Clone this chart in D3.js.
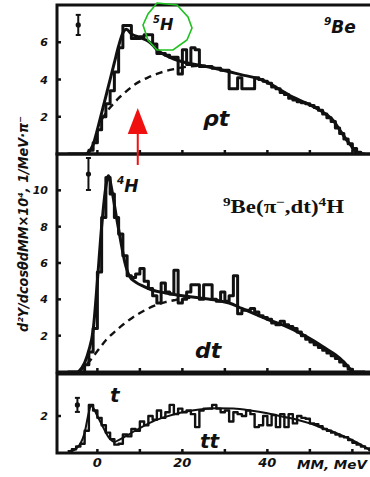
<!DOCTYPE html>
<html>
<head>
<meta charset="utf-8">
<script src="https://cdn.jsdelivr.net/npm/d3@7"></script>
<style>
  html, body { margin: 0; padding: 0; background: #fff; }
  svg { display: block; }
  .hand { font-family: "DejaVu Sans", sans-serif; font-style: italic; font-weight: bold; fill: #111; }
</style>
</head>
<body>
<svg id="chart" width="370" height="477"></svg>
<script>
// ---- data ----------------------------------------------------------------
// Missing-mass histograms, 1 MeV bins; first bin starts at binStart (MeV).
const binStart = -7;
const binWidth = 1;

// 9Be(pi-, pt) X
const ptCounts = [
  0, 0, 0, 0, 0, 0.2, 0.6, 1.3, 2.0, 2.7,          // -7 .. 2
  3.4, 4.4, 5.7, 6.9, 6.9, 6.2, 6.2, 6.3, 6.4, 6.4, // 3 .. 12
  5.9, 5.4, 5.4, 5.3, 5.2, 5.2, 4.3, 5.6, 4.8, 5.7, // 13 .. 22
  5.6, 4.7, 4.7, 4.7, 4.6, 4.6, 4.5, 4.5, 3.5, 3.5, // 23 .. 32
  4.1, 3.5, 3.5, 3.5, 4.1, 4.0, 3.9, 3.8, 3.6, 3.5, // 33 .. 42
  3.3, 3.2, 3.0, 2.9, 2.8, 2.75, 2.7, 2.6, 2.5, 2.35, // 43 .. 52
  2.15, 1.95, 1.75, 1.4, 1.1, 0.8, 0.55, 0.3, 0.1, 0  // 53 .. 62
];
// 9Be(pi-, dt) 4H
const dtCounts = [
  0, 0, 0, 0, 0.4, 1.1, 2.4, 5.5, 8.5, 10.7,        // -7 .. 2
  9.8, 8.5, 7.6, 6.4, 5.3, 5.2, 5.4, 5.7, 5.0, 4.6, // 3 .. 12
  4.2, 3.8, 4.9, 4.4, 4.3, 5.6, 3.8, 4.0, 4.4, 4.8, // 13 .. 22
  4.8, 4.0, 4.8, 4.8, 4.0, 3.9, 4.4, 3.9, 4.2, 5.3, // 23 .. 32
  3.2, 3.4, 3.4, 3.5, 3.3, 3.1, 3.0, 2.9, 2.7, 2.6, // 33 .. 42
  2.8, 2.6, 2.5, 2.4, 2.2, 2.0, 1.8, 1.65, 1.5, 1.35, // 43 .. 52
  1.2, 1.05, 0.9, 0.75, 0.55, 0.35, 0.15, 0, 0, 0   // 53 .. 62
];
// 9Be(pi-, tt) X
const ttCounts = [
  0.1, 0.2, 0.35, 0.5, 1.2, 2.6, 2.3, 1.9, 1.5, 1.1, // -7 .. 2
  0.75, 0.45, 0.5, 1.0, 0.9, 1.3, 1.2, 1.7, 1.5, 2.0, // 3 .. 12
  1.8, 2.3, 1.9, 2.2, 2.6, 2.1, 2.4, 2.2, 2.3, 2.1,  // 13 .. 22
  1.4, 2.3, 2.4, 2.4, 2.6, 2.4, 2.2, 2.3, 1.7, 2.2,  // 23 .. 32
  2.1, 2.0, 2.3, 2.1, 1.4, 1.5, 2.0, 1.5, 2.05, 1.4, // 33 .. 42
  2.1, 1.4, 2.1, 1.6, 2.0, 1.9, 1.85, 1.6, 1.55, 1.45, // 43 .. 52
  1.3, 1.2, 1.1, 1.0, 0.9, 0.85, 0.7, 0.55, 0.45, 0.35, // 53 .. 62
  0.25, 0.15                                          // 63 .. 64
];

// Fitted curves, [MeV, value]
const ptFit = [[-2.5,0],[-1,0.5],[0,1.3],[1,2.2],[2,3.1],[3,4.0],[4,4.9],[5,5.8],[6,6.5],[6.8,6.7],
  [8,6.45],[10,6.25],[12,6.05],[13,5.85],[14,5.6],[16,5.3],[18,5.1],[20,4.95],[22,4.85],[25,4.72],
  [28,4.58],[31,4.42],[34,4.25],[37,4.1],[40,3.85],[43,3.45],[46,3.05],[49,2.75],[52,2.4],[54,2.1],
  [55.5,1.8],[57,1.3],[58.5,0.8],[60,0.35],[61,0]];
const dtFit = [[-4.5,0],[-3,0.5],[-2,1.2],[-1,2.3],[0,5.0],[1,8.0],[2,10.2],[2.6,10.8],[3.5,9.9],
  [4.5,8.5],[5.5,7.2],[6.5,6.0],[7.5,5.3],[9,4.95],[11,4.7],[13,4.5],[16,4.35],[20,4.2],[24,4.08],
  [28,3.95],[31,3.8],[34,3.5],[37,3.2],[40,2.9],[44,2.55],[48,2.1],[51,1.7],[54,1.25],[56,0.95],
  [58,0.55],[59.5,0.15],[60,0]];
const ttFit = [[-6,0.1],[-5,0.25],[-4,0.5],[-3,1.1],[-2,2.2],[-1.5,2.55],[-1,2.45],[0,2.0],[1,1.55],
  [2,1.1],[3,0.75],[4,0.6],[5,0.7],[7,0.95],[10,1.35],[13,1.7],[16,1.95],[20,2.2],[24,2.35],[28,2.42],
  [32,2.4],[36,2.3],[40,2.15],[44,1.95],[47,1.8],[50,1.6],[53,1.35],[56,1.1],[59,0.8],[62,0.45],[64.5,0.1]];

// Phase-space distributions (dashed), [MeV, value]
const ptPhase = [[1,1.85],[2,2.2],[3,2.5],[4,2.75],[5,3.0],[6,3.2],[7,3.4],[8,3.6],[10,3.9],[12,4.12],
  [14,4.3],[16,4.45],[18,4.56],[20,4.65],[22,4.71],[24,4.74],[25.5,4.74]];
const dtPhase = [[-4.5,0],[-3,0.3],[-2,0.55],[0,1.15],[2,1.75],[4,2.2],[6,2.6],[8,2.95],[10,3.25],
  [12,3.5],[14,3.7],[16,3.85],[18,3.95],[20,4.05],[22,4.08]];

// Typical error bars, [MeV, value, error]
const ptError = [-4.5, 6.93, 0.54];
const dtError = [-2.1, 10.9, 0.88];
const ttError = [-4.7, 2.6, 0.38];

// Axis ticks
const xTicks = [0, 10, 20, 30, 40, 50, 60];
const xTickLabels = [0, 20, 40];
const ptYTicks = [2, 4, 6];
const dtYTicks = [2, 4, 6, 8, 10];
const ttYTicks = [2];

// Marked position of the 5H state
const arrowMeV = 9.5;

// ---- drawing -------------------------------------------------------------
const svg = d3.select("#chart");
const left = 57, right = 372;
const x = d3.scaleLinear().domain([-9.5, 64.5]).range([left, 371.5]);

const panels = [
  { id: "pt", counts: ptCounts, fit: ptFit, phase: ptPhase, err: ptError, ticks: ptYTicks,
    y: d3.scaleLinear().domain([0, 8]).range([154, 5]), lw: 3 },
  { id: "dt", counts: dtCounts, fit: dtFit, phase: dtPhase, err: dtError, ticks: dtYTicks,
    y: d3.scaleLinear().domain([0, 12]).range([372, 154]), lw: 3 },
  { id: "tt", counts: ttCounts, fit: ttFit, phase: null, err: ttError, ticks: ttYTicks,
    y: d3.scaleLinear().domain([0, 4.27]).range([453, 374]), lw: 2.4 }
];

panels.forEach(p => {
  const [yBot, yTop] = p.y.range();
  const g = svg.append("g");

  g.append("clipPath").attr("id", "clip-" + p.id)
    .append("rect").attr("x", left).attr("y", yTop).attr("width", right - left).attr("height", yBot - yTop);

  const plot = g.append("g").attr("clip-path", `url(#clip-${p.id})`);

  // phase space (dashed)
  if (p.phase) {
    plot.append("path")
      .attr("d", d3.line().x(d => x(d[0])).y(d => p.y(d[1])).curve(d3.curveMonotoneX)(p.phase))
      .attr("fill", "none").attr("stroke", "#111").attr("stroke-width", 2.4)
      .attr("stroke-dasharray", "7,5");
  }

  // fit curve
  plot.append("path")
    .attr("d", d3.line().x(d => x(d[0])).y(d => p.y(d[1])).curve(d3.curveMonotoneX)(p.fit))
    .attr("fill", "none").attr("stroke", "#111")
    .attr("stroke-width", p.id === "tt" ? 2 : 3).attr("stroke-linejoin", "round");

  // histogram
  const pts = p.counts.map((v, i) => [binStart + i * binWidth, v]);
  pts.push([binStart + p.counts.length * binWidth, p.counts[p.counts.length - 1]]);
  plot.append("path")
    .attr("d", d3.line().x(d => x(d[0])).y(d => p.y(d[1])).curve(d3.curveStepAfter)(pts))
    .attr("fill", "none").attr("stroke", "#111").attr("stroke-width", p.lw)
    .attr("stroke-linejoin", "round");

  // frame: left, top, bottom
  g.append("path")
    .attr("d", `M${right},${yTop}H${left}V${yBot}H${right}`)
    .attr("fill", "none").attr("stroke", "#111").attr("stroke-width", 3);

  // x ticks (inside)
  g.selectAll(".xt").data(xTicks).join("line")
    .attr("x1", d => x(d)).attr("x2", d => x(d))
    .attr("y1", yBot).attr("y2", yBot - 4)
    .attr("stroke", "#111").attr("stroke-width", 2.5);

  // y ticks + labels
  g.selectAll(".yt").data(p.ticks).join("line")
    .attr("x1", left).attr("x2", left + 4)
    .attr("y1", d => p.y(d)).attr("y2", d => p.y(d))
    .attr("stroke", "#111").attr("stroke-width", 2.5);
  g.selectAll(".yl").data(p.ticks).join("text")
    .attr("class", "hand")
    .attr("x", left - 9).attr("y", d => p.y(d) + 4)
    .attr("text-anchor", "end").attr("font-size", 11)
    .text(d => d);

  // typical error bar
  const [ex, ey, ee] = p.err;
  g.append("line")
    .attr("x1", x(ex)).attr("x2", x(ex))
    .attr("y1", p.y(ey - ee)).attr("y2", p.y(ey + ee))
    .attr("stroke", "#111").attr("stroke-width", 2);
  [ey - ee, ey + ee].forEach(v => g.append("line")
    .attr("x1", x(ex) - 2.5).attr("x2", x(ex) + 2.5)
    .attr("y1", p.y(v)).attr("y2", p.y(v))
    .attr("stroke", "#111").attr("stroke-width", 2));
  g.append("circle").attr("cx", x(ex)).attr("cy", p.y(ey)).attr("r", 2.6).attr("fill", "#111");
});

// x tick labels and axis title
const bottomY = 467;
svg.selectAll(".xl").data(xTickLabels).join("text")
  .attr("class", "hand").attr("x", d => x(d)).attr("y", bottomY)
  .attr("text-anchor", "middle").attr("font-size", 13).text(d => d);
svg.append("text").attr("class", "hand")
  .attr("x", 297).attr("y", 469).attr("font-size", 13)
  .attr("textLength", 70).attr("lengthAdjust", "spacingAndGlyphs")
  .text("MM, MeV");

// y axis title
svg.append("text").attr("class", "hand")
  .attr("transform", "translate(28,224) rotate(-90)")
  .attr("text-anchor", "middle").attr("font-size", 14)
  .attr("textLength", 216).attr("lengthAdjust", "spacingAndGlyphs")
  .text("d²Y/dcosθdMM×10⁴, 1/MeV·π⁻");

// annotations
function supLabel(xp, yp, sup, main, size) {
  const t = svg.append("text").attr("class", "hand").attr("x", xp).attr("y", yp).attr("font-size", size);
  t.append("tspan").attr("font-size", size * 0.62).attr("dy", -size * 0.45).text(sup);
  t.append("tspan").attr("dy", size * 0.45).text(main);
  return t;
}
supLabel(153, 30, "5", "H", 16);
supLabel(324, 33, "9", "Be", 17);
supLabel(117, 192, "4", "H", 17);

svg.append("text").attr("class", "hand").attr("x", 203).attr("y", 126).attr("font-size", 22).text("ρt");
svg.append("text").attr("class", "hand").attr("x", 195).attr("y", 358).attr("font-size", 22).text("dt");
svg.append("text").attr("class", "hand").attr("x", 110).attr("y", 402).attr("font-size", 20).text("t");
svg.append("text").attr("class", "hand").attr("x", 200).attr("y", 448).attr("font-size", 20).text("tt");

// reaction label (serif bold)
const rx = svg.append("text")
  .attr("x", 223).attr("y", 213)
  .attr("font-family", "'Liberation Serif', 'DejaVu Serif', serif")
  .attr("font-weight", "bold").attr("font-size", 18).attr("fill", "#111")
  .attr("textLength", 121).attr("lengthAdjust", "spacingAndGlyphs");
rx.append("tspan").attr("font-size", 12).attr("dy", -7).text("9");
rx.append("tspan").attr("dy", 7).text("Be(π");
rx.append("tspan").attr("font-size", 12).attr("dy", -7).text("−");
rx.append("tspan").attr("dy", 7).text(",dt)");
rx.append("tspan").attr("font-size", 12).attr("dy", -7).text("4");
rx.append("tspan").attr("dy", 7).text("H");

// green outline around the 5H label
const ring = [[157,3],[177,5],[188,17],[192,28],[187,40],[173,50],[157,50],[148,40],[143,25],[148,14]];
svg.append("path")
  .attr("d", d3.line().curve(d3.curveLinearClosed)(ring))
  .attr("fill", "none").attr("stroke", "#1fc21f").attr("stroke-width", 1.6);

// red arrow at the 5H position
const ax = x(arrowMeV);
svg.append("line").attr("x1", ax).attr("x2", ax).attr("y1", 130).attr("y2", 165)
  .attr("stroke", "#f01010").attr("stroke-width", 2);
svg.append("path")
  .attr("d", `M${ax},108L${ax + 10},134L${ax - 10},134Z`)
  .attr("fill", "#f01010");
</script>
</body>
</html>
